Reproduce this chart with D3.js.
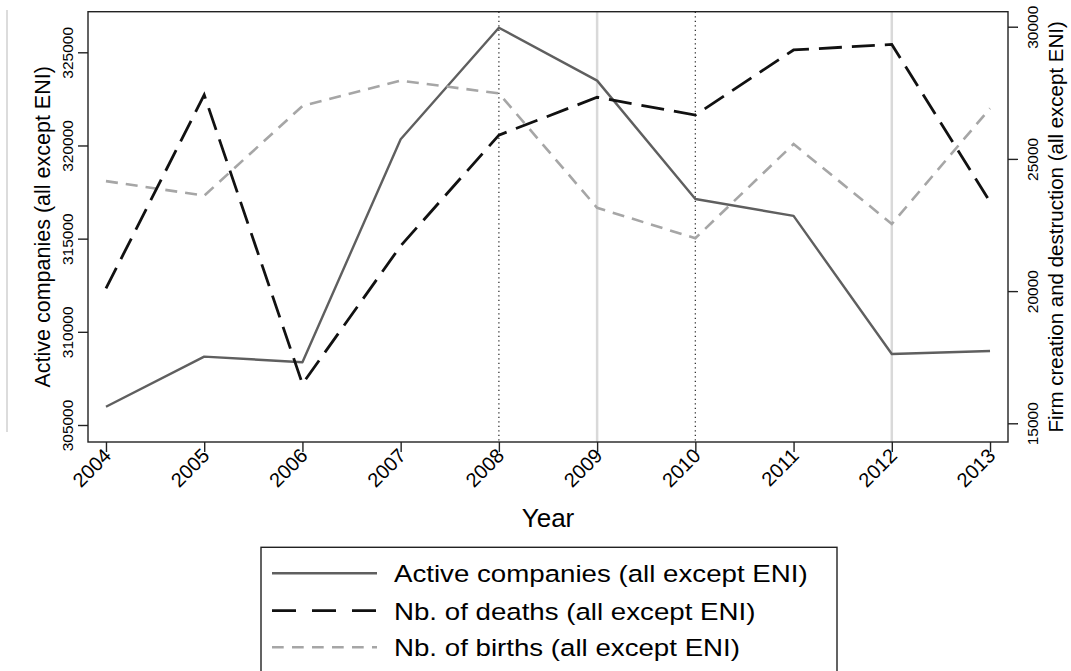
<!DOCTYPE html>
<html>
<head>
<meta charset="utf-8">
<script src="https://cdn.jsdelivr.net/npm/d3@7/dist/d3.min.js"></script>
<style>
  html, body { margin: 0; padding: 0; background: #fff; }
  svg { display: block; font-family: "Liberation Sans", Arial, Helvetica, sans-serif; }
</style>
</head>
<body>
<svg id="chart" width="1071" height="671"></svg>
<script>
const years = [2004, 2005, 2006, 2007, 2008, 2009, 2010, 2011, 2012, 2013];
const activeCompanies = [305980, 308670, 308370, 320330, 326320, 323480, 317130, 316220, 308810, 308970];
const deaths = [20100, 27420, 16490, 21710, 25900, 27330, 26660, 29120, 29330, 23380];
const births = [24160, 23610, 27000, 27960, 27480, 23150, 22000, 25560, 22540, 26910];
const leftTicks = [305000, 310000, 315000, 320000, 325000];
const rightTicks = [15000, 20000, 25000, 30000];
const dottedYears = [2008, 2010];
const greyYears = [2009, 2012];
const seriesNames = ["Active companies (all except ENI)", "Nb. of deaths (all except ENI)", "Nb. of births (all except ENI)"];
const xTitle = "Year";
const leftTitle = "Active companies (all except ENI)";
const rightTitle = "Firm creation and destruction (all except ENI)";

const svg = d3.select("#chart");
const L = 88, R = 1008, T = 11.7, B = 442;

const x = d3.scaleLinear().domain([2003.817, 2013.183]).range([L, R]);
const yL = d3.scaleLinear().domain([305000, 325000]).range([425, 52.3]);
const yR = d3.scaleLinear().domain([15000, 30000]).range([423.3, 26.7]);

// stray light grey line at far left
svg.append("line").attr("x1", 7).attr("x2", 7).attr("y1", 10).attr("y2", 432)
  .attr("stroke", "#dcdcdc").attr("stroke-width", 2);

// reference lines
greyYears.forEach(yr => {
  svg.append("line").attr("x1", x(yr)).attr("x2", x(yr)).attr("y1", T).attr("y2", B)
    .attr("stroke", "#d9d9d9").attr("stroke-width", 2.5);
});
dottedYears.forEach(yr => {
  svg.append("line").attr("x1", x(yr)).attr("x2", x(yr)).attr("y1", T).attr("y2", B)
    .attr("stroke", "#333").attr("stroke-width", 1.3).attr("stroke-dasharray", "1.3,3.2");
});

const lineL = d3.line().x((d, i) => x(years[i])).y(d => yL(d));
const lineR = d3.line().x((d, i) => x(years[i])).y(d => yR(d));

const styles = [
  { stroke: "#5f5f5f", width: 2.4, dash: null, legendDash: null },
  { stroke: "#111", width: 2.8, dash: "23,10", legendDash: "24,16" },
  { stroke: "#a6a6a6", width: 2.6, dash: "12,8", legendDash: "11.7,8.3" }
];

svg.append("path").datum(activeCompanies).attr("d", lineL).attr("fill", "none")
  .attr("stroke", styles[0].stroke).attr("stroke-width", styles[0].width).attr("stroke-linejoin", "round");
svg.append("path").datum(births).attr("d", lineR).attr("fill", "none")
  .attr("stroke", styles[2].stroke).attr("stroke-width", styles[2].width).attr("stroke-dasharray", styles[2].dash);
svg.append("path").datum(deaths).attr("d", lineR).attr("fill", "none")
  .attr("stroke", styles[1].stroke).attr("stroke-width", styles[1].width).attr("stroke-dasharray", styles[1].dash);

// frame
svg.append("rect").attr("x", L).attr("y", T).attr("width", R - L).attr("height", B - T)
  .attr("fill", "none").attr("stroke", "#222").attr("stroke-width", 1.4);

// bottom axis
const xAxis = svg.append("g").attr("transform", `translate(0,${B})`)
  .call(d3.axisBottom(x).tickValues(years).tickFormat(d3.format("d")).tickSize(10).tickPadding(4));
xAxis.attr("font-size", null).attr("font-family", null);
xAxis.select(".domain").remove();
xAxis.selectAll(".tick line").attr("stroke", "#222").attr("stroke-width", 1.4);
xAxis.selectAll(".tick text")
  .style("font-size", "20px").attr("fill", "#000")
  .attr("text-anchor", "end").attr("dy", null)
  .attr("transform", "translate(6,15) rotate(-45)")
  .attr("y", 0).attr("x", 0);

// left axis
const yAxisL = svg.append("g").attr("transform", `translate(${L},0)`)
  .call(d3.axisLeft(yL).tickValues(leftTicks).tickFormat(d3.format("d")).tickSize(10).tickPadding(4));
yAxisL.attr("font-size", null).attr("font-family", null);
yAxisL.select(".domain").remove();
yAxisL.selectAll(".tick line").attr("stroke", "#222").attr("stroke-width", 1.4);
yAxisL.selectAll(".tick text")
  .style("font-size", "15.5px").attr("fill", "#000")
  .attr("text-anchor", "middle").attr("x", 0).attr("dy", null)
  .attr("transform", "translate(-15,0) rotate(-90)").attr("y", 0);

// right axis
const yAxisR = svg.append("g").attr("transform", `translate(${R},0)`)
  .call(d3.axisRight(yR).tickValues(rightTicks).tickFormat(d3.format("d")).tickSize(10).tickPadding(4));
yAxisR.attr("font-size", null).attr("font-family", null);
yAxisR.select(".domain").remove();
yAxisR.selectAll(".tick line").attr("stroke", "#222").attr("stroke-width", 1.4);
yAxisR.selectAll(".tick text")
  .style("font-size", "15.5px").attr("fill", "#000")
  .attr("text-anchor", "middle").attr("x", 0).attr("dy", null)
  .attr("transform", "translate(30,0) rotate(-90)").attr("y", 0);

// titles
svg.append("text").attr("x", (L + R) / 2).attr("y", 527).attr("text-anchor", "middle")
  .style("font-size", "26px").text(xTitle);
svg.append("text").attr("transform", `translate(50,${(T + B) / 2}) rotate(-90)`).attr("text-anchor", "middle")
  .style("font-size", "21.5px").text(leftTitle);
svg.append("text").attr("transform", `translate(1063,${(T + B) / 2}) rotate(-90)`).attr("text-anchor", "middle")
  .style("font-size", "20.5px").text(rightTitle);

// legend
const lg = svg.append("g");
lg.append("rect").attr("x", 261).attr("y", 547.3).attr("width", 576).attr("height", 140)
  .attr("fill", "#fff").attr("stroke", "#222").attr("stroke-width", 1.4);
const rowY = [573.3, 610.7, 647.3];
seriesNames.forEach((name, i) => {
  const s = styles[i];
  const ln = lg.append("line").attr("x1", 272).attr("x2", 377).attr("y1", rowY[i]).attr("y2", rowY[i])
    .attr("stroke", s.stroke).attr("stroke-width", s.width);
  if (s.legendDash) ln.attr("stroke-dasharray", s.legendDash);
  lg.append("text").attr("transform", `translate(394,${rowY[i]}) scale(1.13,1)`).attr("dy", "0.36em")
    .style("font-size", "24.5px").text(name);
});
</script>
</body>
</html>
